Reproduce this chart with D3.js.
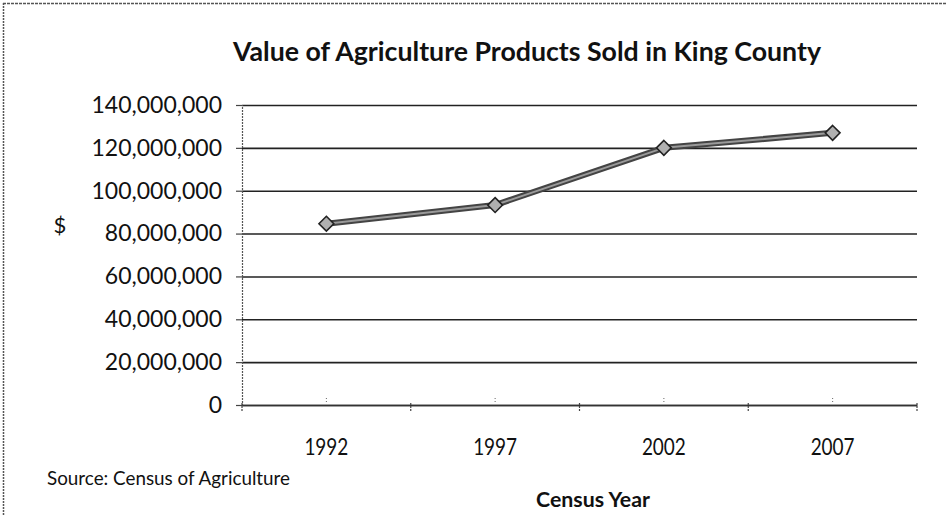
<!DOCTYPE html>
<html>
<head>
<meta charset="utf-8">
<script src="https://cdn.jsdelivr.net/npm/d3@7"></script>
<style>
  html, body { margin: 0; padding: 0; background: #fff; }
  svg { display: block; }
  text { font-family: Lato, "Open Sans", sans-serif; fill: #111; }
</style>
</head>
<body>
<svg id="chart" width="946" height="515"></svg>
<script>
const years = ["1992", "1997", "2002", "2007"];
const values = [84600000, 93300000, 120000000, 127000000];
const yTicks = [0, 20000000, 40000000, 60000000, 80000000, 100000000, 120000000, 140000000];
const titleText = "Value of Agriculture Products Sold in King County";
const xTitle = "Census Year";
const yTitle = "$";
const sourceText = "Source: Census of Agriculture";

(function () {
const svg = d3.select("#chart");
const pLeft = 242, pRight = 917, pTop = 105, pBottom = 405;

const x = d3.scaleBand().domain(years).range([pLeft, pRight]).padding(0);
const y = d3.scaleLinear().domain([0, 140000000]).range([pBottom, pTop]);

// outer chart border (left and top visible)
svg.append("line").attr("x1", 3.5).attr("x2", 3.5).attr("y1", 3).attr("y2", 515)
  .attr("stroke", "#555").attr("stroke-width", 1.5).attr("stroke-dasharray", "2,1");
svg.append("line").attr("x1", 3).attr("x2", 946).attr("y1", 3.5).attr("y2", 3.5)
  .attr("stroke", "#555").attr("stroke-width", 1.5).attr("stroke-dasharray", "3,1");

// title
svg.append("text").attr("x", 527).attr("y", 61).attr("text-anchor", "middle")
  .attr("font-size", 26).attr("font-weight", "bold")
  .attr("textLength", 588).attr("lengthAdjust", "spacingAndGlyphs")
  .text(titleText);

// gridlines
const grid = svg.append("g").attr("transform", `translate(${pLeft},0)`)
  .call(d3.axisRight(y).tickValues(yTicks).tickSize(pRight - pLeft).tickFormat(""));
grid.select(".domain").remove();
grid.selectAll(".tick line").attr("stroke", "#222").attr("stroke-width", 1.6);

// y axis
const yAxis = svg.append("g").attr("transform", `translate(${pLeft},0)`)
  .call(d3.axisLeft(y).tickValues(yTicks).tickSize(6).tickPadding(14).tickFormat(d3.format(",")));
yAxis.select(".domain").attr("stroke", "#555").attr("stroke-width", 1.2).attr("stroke-dasharray", "2,1");
yAxis.selectAll(".tick line").attr("stroke", "#444").attr("stroke-width", 1.2);
yAxis.selectAll(".tick text").attr("font-size", 23).attr("font-family", "Lato, sans-serif").attr("fill", "#111");

// x axis
const xAxis = svg.append("g").attr("transform", `translate(0,${pBottom})`)
  .call(d3.axisBottom(x).tickSize(0).tickPadding(0));
xAxis.select(".domain").attr("stroke", "#333").attr("stroke-width", 1.4);
xAxis.selectAll(".tick text").attr("font-size", 24).attr("font-family", "Lato, sans-serif")
  .attr("fill", "#111").attr("y", 42).attr("dy", "0.35em")
  .attr("textLength", 44).attr("lengthAdjust", "spacingAndGlyphs");
// boundary tick marks
const bounds = years.map(d => x(d)).concat([x(years[years.length - 1]) + x.bandwidth()]);
svg.append("g").selectAll("line").data(bounds).join("line")
  .attr("x1", d => d).attr("x2", d => d).attr("y1", pBottom - 2).attr("y2", pBottom + 7)
  .attr("stroke", "#444").attr("stroke-width", 1.2).attr("stroke-dasharray", "2,1");
// small center marks
svg.append("g").selectAll("line").data(years).join("line")
  .attr("x1", d => x(d) + x.bandwidth() / 2).attr("x2", d => x(d) + x.bandwidth() / 2)
  .attr("y1", pBottom - 7).attr("y2", pBottom - 1)
  .attr("stroke", "#666").attr("stroke-width", 1).attr("stroke-dasharray", "1,2");

// series line
const pts = years.map((d, i) => [x(d) + x.bandwidth() / 2, y(values[i])]);
const line = d3.line();
svg.append("path").attr("d", line(pts)).attr("fill", "none")
  .attr("stroke", "#444").attr("stroke-width", 6).attr("stroke-linejoin", "round");
svg.append("path").attr("d", line(pts)).attr("fill", "none")
  .attr("stroke", "#9a9a9a").attr("stroke-width", 2).attr("stroke-linejoin", "round");

// markers
const diamond = d3.symbol().type(d3.symbolDiamond2).size(140);
svg.append("g").selectAll("path").data(pts).join("path")
  .attr("transform", d => `translate(${d[0]},${d[1]})`)
  .attr("d", diamond())
  .attr("fill", "#b0b0b0").attr("stroke", "#222").attr("stroke-width", 1.6);

// axis titles
svg.append("text").attr("x", 60).attr("y", 225).attr("dy", "0.35em").attr("text-anchor", "middle")
  .attr("font-size", 22).text(yTitle);
svg.append("text").attr("x", 593).attr("y", 500).attr("dy", "0.35em").attr("text-anchor", "middle")
  .attr("font-size", 21).attr("font-weight", "bold")
  .attr("textLength", 114).attr("lengthAdjust", "spacingAndGlyphs").text(xTitle);
svg.append("text").attr("x", 47).attr("y", 478).attr("dy", "0.35em").attr("text-anchor", "start")
  .attr("font-size", 19).attr("textLength", 243).attr("lengthAdjust", "spacingAndGlyphs").text(sourceText);
})();
</script>
</body>
</html>
